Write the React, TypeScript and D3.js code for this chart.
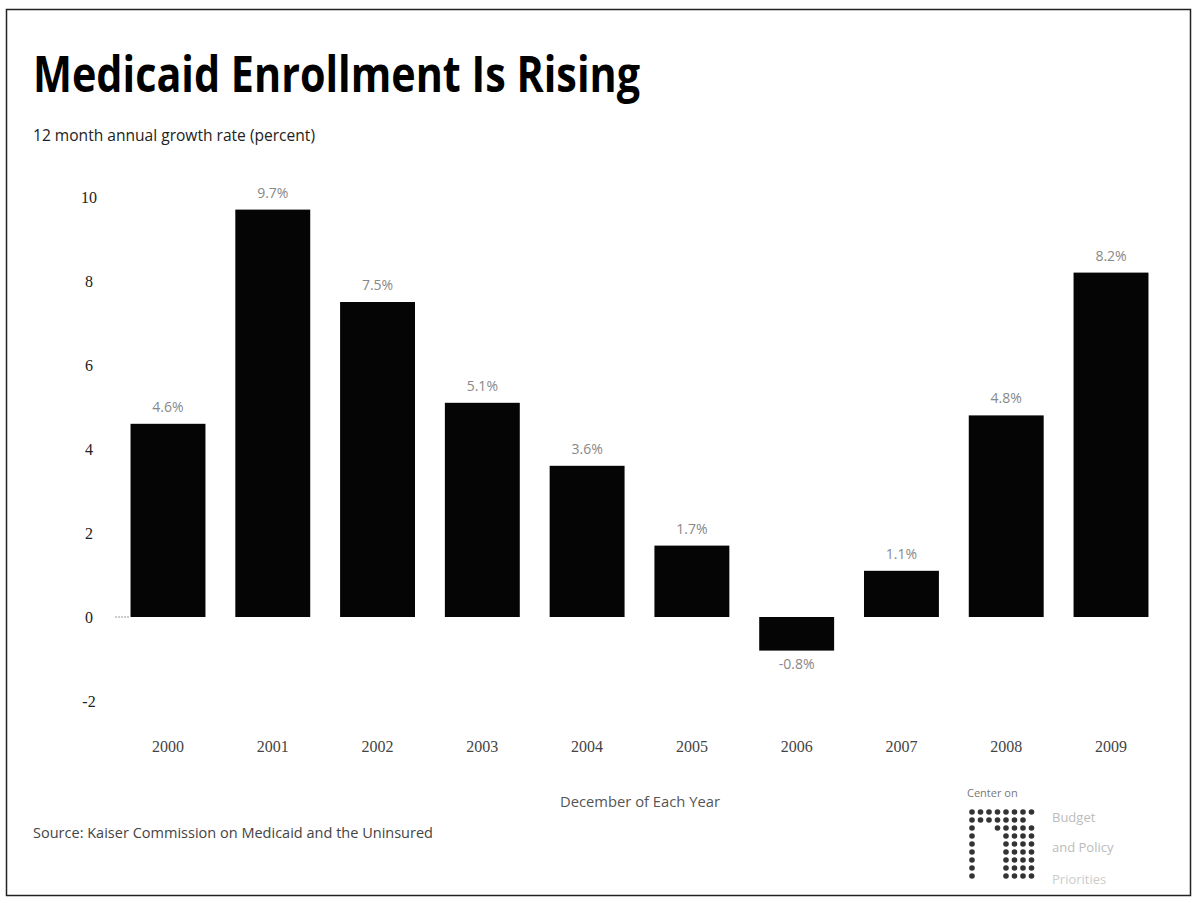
import React from "react";
import * as d3 from "d3";

const years = ["2000", "2001", "2002", "2003", "2004", "2005", "2006", "2007", "2008", "2009"];
const growth = [4.6, 9.7, 7.5, 5.1, 3.6, 1.7, -0.8, 1.1, 4.8, 8.2];
const yTicks = [10, 8, 6, 4, 2, 0, -2];

const W = 1198;
const H = 903;

export default function App() {
  const x = d3.scaleBand<string>().domain(years).range([115.6, 1163.4]).paddingInner(0.285).paddingOuter(0.1425);
  const y = d3.scaleLinear().domain([-2, 10]).range([701, 197]);
  const fmt = (v: number) => `${v.toFixed(1)}%`;

  // logo dot grid
  const dots: { cx: number; cy: number }[] = [];
  for (let r = 0; r < 9; r++) {
    for (let c = 0; c < 8; c++) {
      const inCut = c >= 1 && c <= 3 && r >= 2 && !(c === 3 && r < 3);
      const topCut = r < 2 && c >= 5 && r === 1 && c === 7;
      if (inCut || topCut) continue;
      dots.push({ cx: 972 + c * 8.5, cy: 812 + r * 8 });
    }
  }

  return (
    <svg width={W} height={H} style={{ position: "absolute", left: 0, top: 0, background: "#fff" }}>
      <rect x={6.5} y={9.5} width={1184} height={886} fill="#fff" stroke="#222" strokeWidth={1.5} />
      <text x={33} y={92} fontFamily="'Open Sans', sans-serif" fontWeight={700} fontSize={50}
        textLength={607} lengthAdjust="spacingAndGlyphs" fill="#000">Medicaid Enrollment Is Rising</text>
      <text x={33} y={141} fontFamily="'Liberation Sans Narrow', 'Open Sans', sans-serif" fontSize={16}
        textLength={282} lengthAdjust="spacingAndGlyphs" fill="#222">12 month annual growth rate (percent)</text>

      {yTicks.map((t) => (
        <text key={t} x={89} y={y(t)} dy="0.35em" textAnchor="middle"
          fontFamily="'Liberation Serif', serif" fontSize={16} fill="#222">{t}</text>
      ))}
      <line x1={115} x2={130} y1={y(0)} y2={y(0)} stroke="#999" strokeWidth={1} strokeDasharray="2,1" />

      {years.map((yr, i) => {
        const v = growth[i];
        const bx = x(yr)!;
        const bw = x.bandwidth();
        const top = y(Math.max(0, v));
        const bottom = y(Math.min(0, v));
        const cx = bx + bw / 2;
        return (
          <g key={yr}>
            <rect x={bx} y={top} width={bw} height={bottom - top} fill="#050505" />
            <text x={cx} y={v >= 0 ? top - 12 : bottom + 18} textAnchor="middle"
              fontFamily="'Liberation Sans Narrow', 'Open Sans', sans-serif" fontSize={14} fill="#888">{fmt(v)}</text>
            <text x={cx} y={752} textAnchor="middle"
              fontFamily="'Liberation Serif', serif" fontSize={16} fill="#444">{yr}</text>
          </g>
        );
      })}

      <text x={640} y={807} textAnchor="middle" fontFamily="'Liberation Sans Narrow', 'Open Sans', sans-serif"
        fontSize={15} textLength={160} lengthAdjust="spacingAndGlyphs" fill="#555">December of Each Year</text>
      <text x={33} y={838} fontFamily="'Liberation Sans Narrow', 'Open Sans', sans-serif" fontSize={15}
        textLength={400} lengthAdjust="spacingAndGlyphs" fill="#444">Source: Kaiser Commission on Medicaid and the Uninsured</text>

      <g>
        <text x={967} y={797} fontFamily="'Open Sans', sans-serif" fontSize={11} fill="#777">Center on</text>
        {dots.map((d, i) => (
          <circle key={i} cx={d.cx} cy={d.cy} r={2.8} fill="#333" />
        ))}
        <text x={1052} y={822} fontFamily="'Open Sans', sans-serif" fontSize={13} fill="#bbb">Budget</text>
        <text x={1052} y={852} fontFamily="'Open Sans', sans-serif" fontSize={13} fill="#bbb">and Policy</text>
        <text x={1052} y={884} fontFamily="'Open Sans', sans-serif" fontSize={13} fill="#ccc">Priorities</text>
      </g>
    </svg>
  );
}
